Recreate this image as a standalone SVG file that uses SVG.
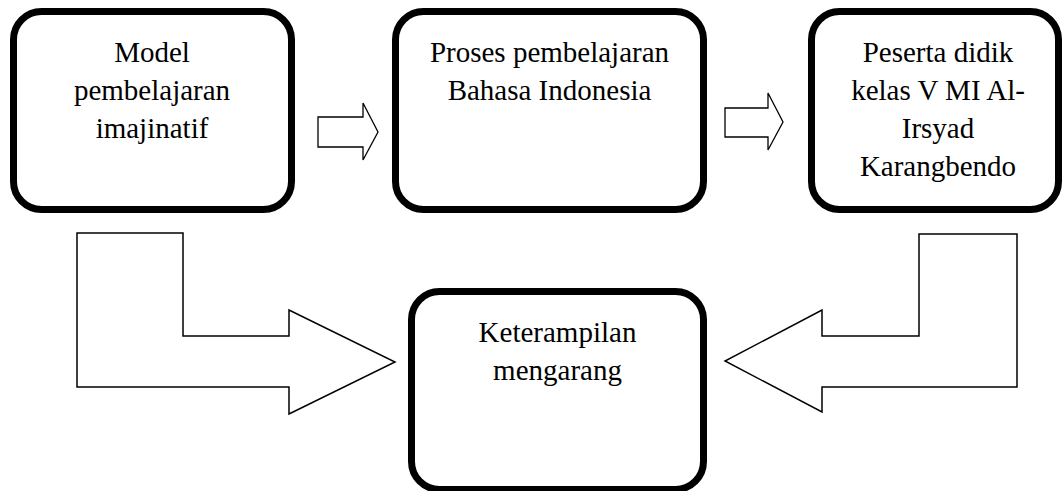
<svg xmlns="http://www.w3.org/2000/svg" width="1062" height="491" viewBox="0 0 1062 491">
<style>
.box{fill:#fff;stroke:#000;stroke-width:7}
.arr{fill:#fff;stroke:#000;stroke-width:1.5;stroke-linejoin:miter}
.sarr{fill:#fff;stroke:#000;stroke-width:1.3}
.t{font-family:'Liberation Serif','Times New Roman',serif;font-size:29px;fill:#000;text-anchor:middle}
</style>
<rect width="1062" height="491" fill="#fff"/>
<g id="connectors">
<polygon class="sarr" points="318,117 363,117 363,103 378,132 363,160 363,147 318,147"/>
<polygon class="sarr" points="725,108 768,108 768,93 783,122 768,150 768,137 725,137"/>
<polygon class="arr" points="77,233 183,233 183,336 289,336 289,310 395,362 289,414 289,387 77,387"/>
<polygon class="arr" points="1017,234 1017,387 822,387 822,412 725,361 822,310 822,336 919,336 919,234"/>
</g>
<g id="node-model">
<rect class="box" x="13.5" y="11.5" width="278" height="198" rx="28"/>
<g class="t">
<text x="152" y="62">Model</text>
<text x="152" y="100">pembelajaran</text>
<text x="152" y="138">imajinatif</text>
</g>
</g>
<g id="node-proses">
<rect class="box" x="395.5" y="11.5" width="308" height="198" rx="28"/>
<g class="t">
<text x="549.5" y="62">Proses pembelajaran</text>
<text x="549.5" y="100">Bahasa Indonesia</text>
</g>
</g>
<g id="node-peserta">
<rect class="box" x="811.5" y="11.5" width="247" height="198" rx="28"/>
<g class="t">
<text x="938" y="62">Peserta didik</text>
<text x="938" y="100">kelas V MI Al-</text>
<text x="938" y="138">Irsyad</text>
<text x="938" y="176">Karangbendo</text>
</g>
</g>
<g id="node-keterampilan">
<rect class="box" x="411.5" y="291.5" width="292" height="198" rx="28"/>
<g class="t">
<text x="557.5" y="342">Keterampilan</text>
<text x="557.5" y="380">mengarang</text>
</g>
</g>
</svg>
